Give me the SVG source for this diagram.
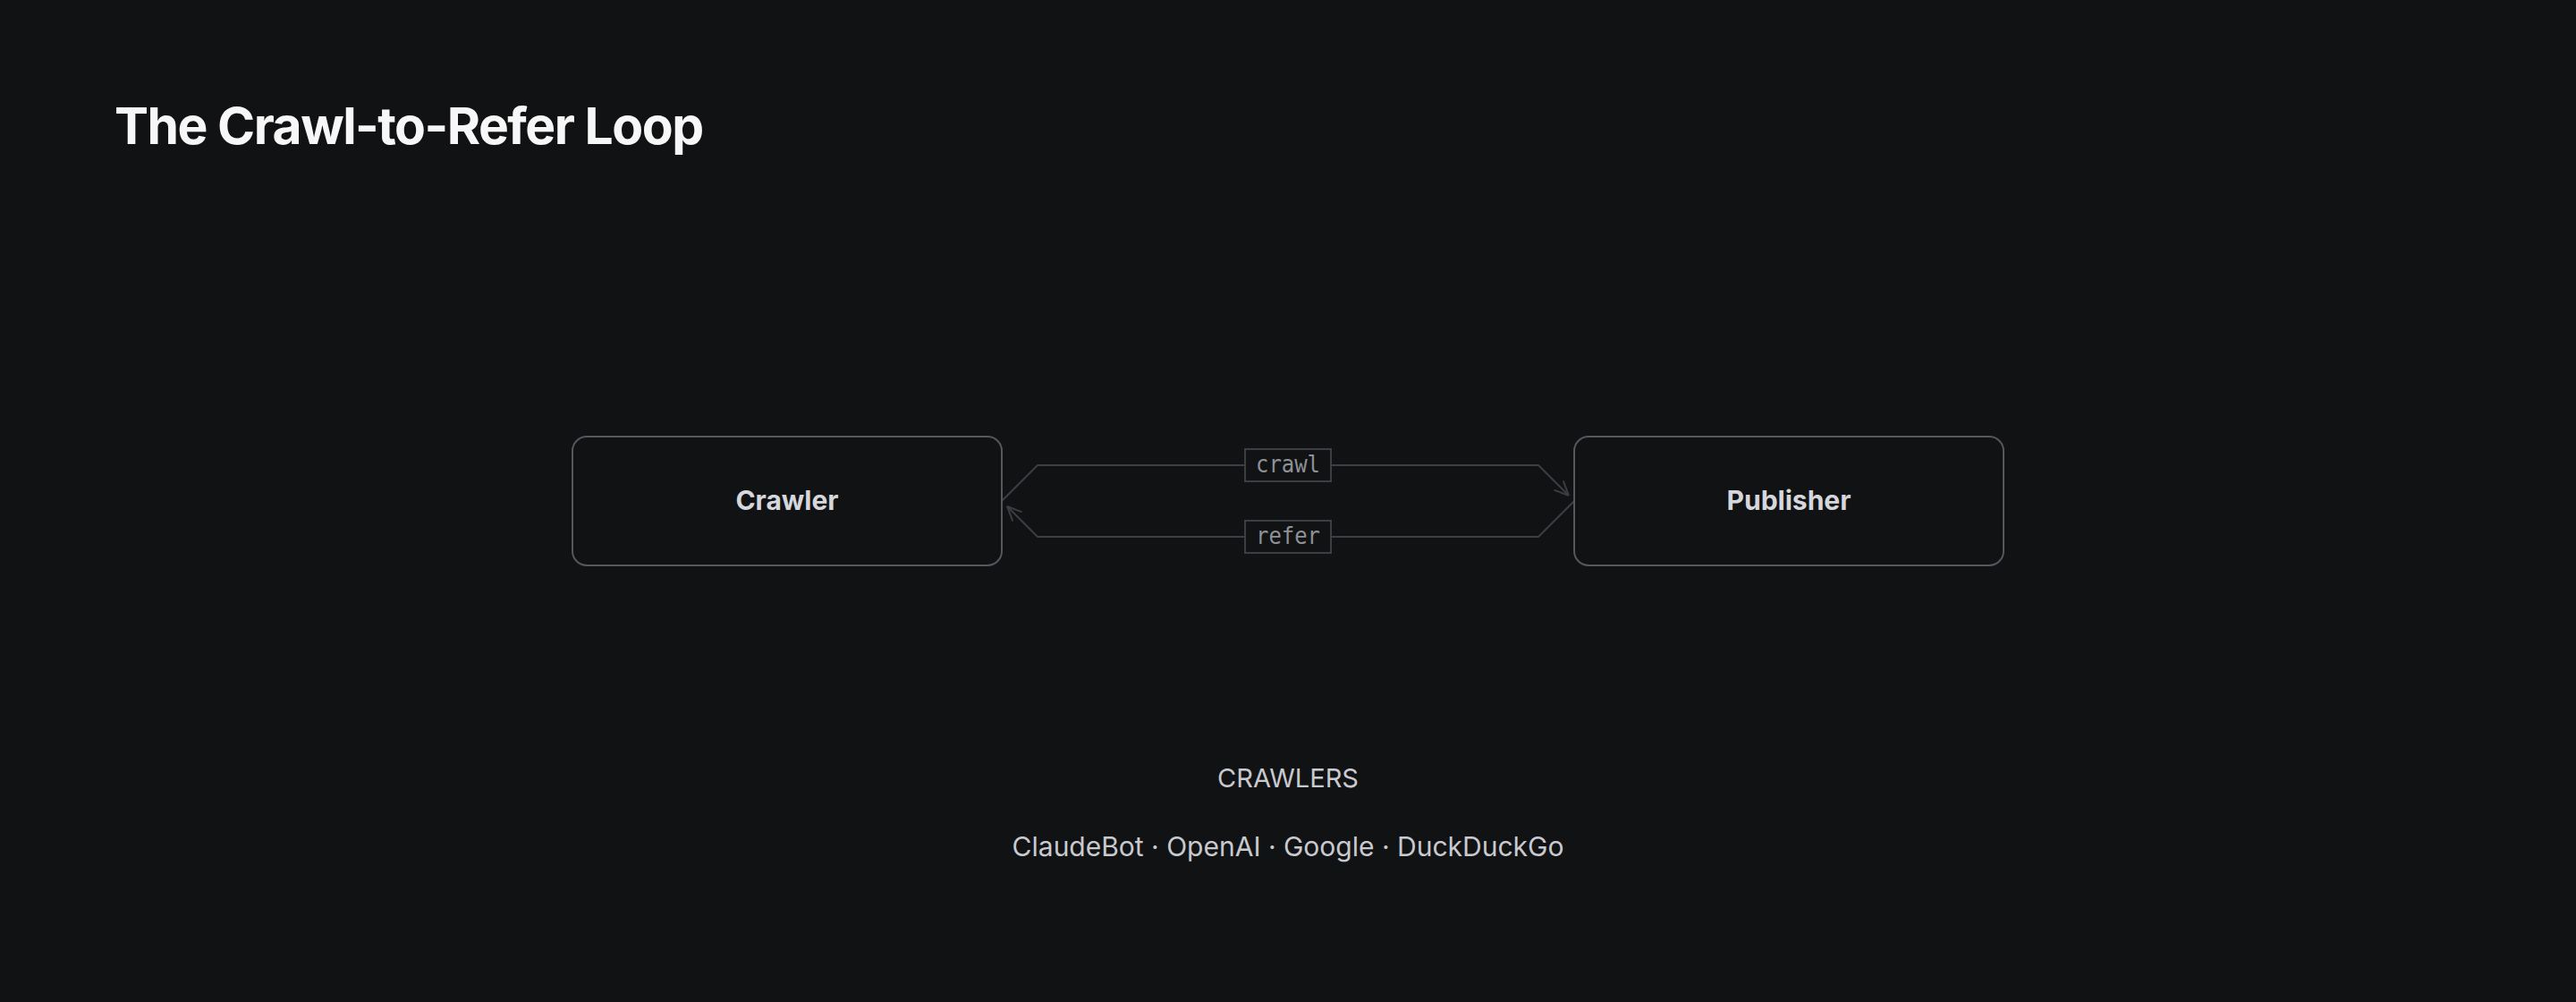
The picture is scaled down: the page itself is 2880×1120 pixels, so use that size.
<svg xmlns="http://www.w3.org/2000/svg" width="2880" height="1120" viewBox="0 0 2880 1120">
  <defs>
    <style>
      .bg { fill: #111214; }
      .title { font-family: Inter, "Liberation Sans", sans-serif; font-weight: 700; font-size: 57px; fill: #f7f7f8; letter-spacing: -1.5px; }
      .node rect { fill: #111214; stroke: #55575d; stroke-width: 2; }
      .node text { font-family: Inter, "Liberation Sans", sans-serif; font-weight: 700; font-size: 30px; fill: #d6d7dc; text-anchor: middle; }
      .edge { fill: none; stroke: #3c3e43; stroke-width: 2; }
      .lbl rect { fill: #111214; stroke: #3c3e43; stroke-width: 2; }
      .lbl text { font-family: "DejaVu Sans Mono", "Liberation Mono", monospace; font-size: 27px; fill: #8e9196; text-anchor: middle; }
      .cap { font-family: Inter, "Liberation Sans", sans-serif; font-size: 29px; fill: #c9cacf; text-anchor: middle; }
      .list { font-family: Inter, "Liberation Sans", sans-serif; font-size: 30px; fill: #c9cacf; text-anchor: middle; }
    </style>
    <marker id="arrow" viewBox="0 0 10 10" refX="10" refY="5" markerWidth="18" markerHeight="18" markerUnits="userSpaceOnUse" orient="auto">
      <path d="M1,1 L10,5 L1,9" fill="none" stroke="#3c3e43" stroke-width="1.1"/>
    </marker>
  </defs>
  <rect class="bg" x="0" y="0" width="2880" height="1120"/>
  <text class="title" x="128" y="161">The Crawl-to-Refer Loop</text>

  <g id="connectors">
    <path class="edge" d="M1120,560 L1160,520 L1720,520 L1754,554" marker-end="url(#arrow)"/>
    <path class="edge" d="M1760,560 L1720,600 L1160,600 L1126,566" marker-end="url(#arrow)"/>
    <g class="lbl" id="label-crawl">
      <rect x="1392" y="502" width="96" height="36"/>
      <text x="1440" y="528" textLength="72" lengthAdjust="spacingAndGlyphs">crawl</text>
    </g>
    <g class="lbl" id="label-refer">
      <rect x="1392" y="582" width="96" height="36"/>
      <text x="1440" y="608" textLength="72" lengthAdjust="spacingAndGlyphs">refer</text>
    </g>
  </g>

  <g class="node" id="node-crawler">
    <rect x="640" y="488" width="480" height="144" rx="16" ry="16"/>
    <text x="880" y="570">Crawler</text>
  </g>
  <g class="node" id="node-publisher">
    <rect x="1760" y="488" width="480" height="144" rx="16" ry="16"/>
    <text x="2000" y="570">Publisher</text>
  </g>

  <g id="legend">
    <text class="cap" x="1440" y="880">CRAWLERS</text>
    <text class="list" x="1440" y="957">ClaudeBot · OpenAI · Google · DuckDuckGo</text>
  </g>
</svg>
